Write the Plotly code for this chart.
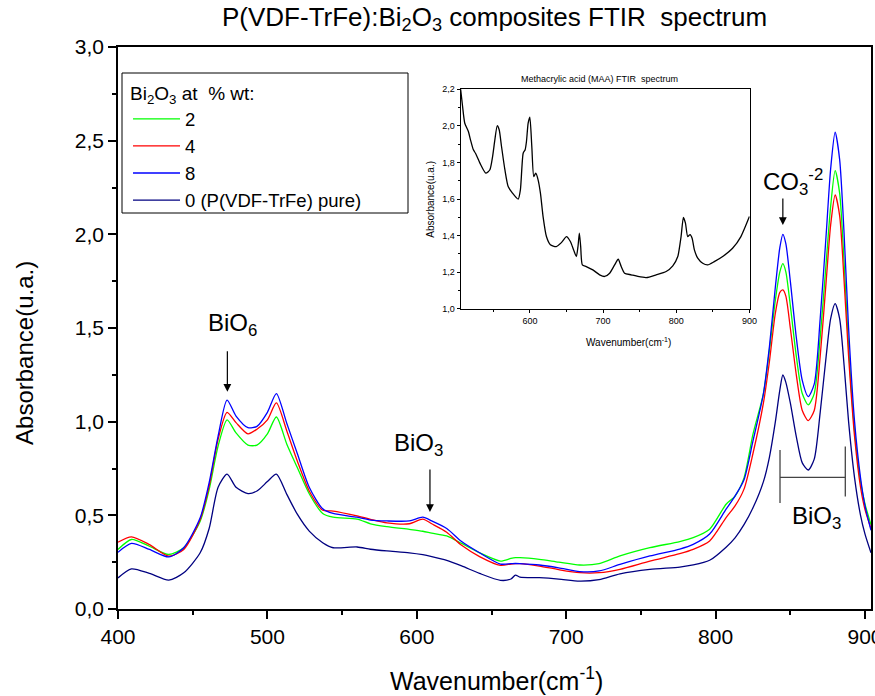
import plotly.graph_objects as go

# ---------------- data ----------------
wavenumber = [400, 409, 421, 434, 444, 455, 461, 467, 473, 479, 487, 493, 500, 506, 513,
              520, 528, 537, 544, 560, 569, 580, 595, 604, 610, 620, 630, 642, 656, 663,
              666, 669, 682, 695, 709, 722, 736, 756, 776, 785, 796, 807, 813, 819, 825,
              832, 836, 840, 843, 845, 847, 850, 854, 858, 862, 866, 870, 874, 877, 880,
              883, 886, 889, 893, 897, 900, 904]

abs_2pct = [.318, .371, .335, .291, .327, .469, .638, .87, 1.01, .94,
            .875, .875, .935, 1.025, .88, .755, .615, .51, .49, .48,
            .455, .44, .425, .415, .405, .39, .35, .30, .256, .27,
            .274, .274, .265, .25, .235, .242, .283, .327, .36, .381,
            .426, .559, .603, .70, .933, 1.15, 1.38, 1.65, 1.80, 1.844,
            1.80, 1.62, 1.35, 1.15, 1.09, 1.15, 1.45, 1.85, 2.15, 2.34,
            2.22, 1.85, 1.4, .95, .68, .56, .45]

abs_4pct = [.357, .385, .344, .282, .318, .478, .656, .906, 1.05, .995,
            .935, .96, 1.01, 1.10, .95, .79, .63, .527, .523, .497,
            .479, .46, .455, .48, .455, .41, .34, .28, .233, .24,
            .242, .242, .229, .21, .194, .194, .212, .256, .295, .318,
            .363, .488, .55, .64, .83, 1.10, 1.32, 1.58, 1.69, 1.703,
            1.67, 1.50, 1.25, 1.06, 1.006, 1.06, 1.35, 1.75, 2.05, 2.21,
            2.10, 1.75, 1.35, .92, .65, .53, .43]

abs_8pct = [.303, .35, .318, .278, .327, .487, .674, .923, 1.115, 1.03,
            .968, .975, 1.05, 1.15, .99, .83, .65, .535, .51, .49,
            .475, .47, .47, .49, .47, .43, .36, .30, .24, .242,
            .243, .242, .235, .22, .20, .203, .238, .283, .32, .345,
            .40, .533, .603, .69, .897, 1.15, 1.40, 1.72, 1.93, 2.0,
            1.95, 1.75, 1.45, 1.22, 1.134, 1.20, 1.55, 2.0, 2.35, 2.545,
            2.40, 2.0, 1.5, 1.0, .70, .55, .42]

abs_0pct = [.166, .214, .19, .154, .193, .30, .43, .65, .72, .65,
            .616, .63, .68, .72, .612, .506, .416, .354, .327, .331,
            .319, .31, .30, .29, .28, .26, .23, .19, .153, .16,
            .181, .17, .167, .16, .149, .157, .188, .212, .224, .235,
            .26, .33, .38, .45, .54, .68, .81, 1.0, 1.17, 1.249,
            1.21, 1.10, .92, .78, .742, .80, 1.05, 1.35, 1.55, 1.63,
            1.55, 1.30, 1.0, .70, .50, .40, .30]

series_names = ["2", "4", "8", "0 (P(VDF-TrFe) pure)"]
series_colors = ["#00FF00", "#FF0000", "#0000FF", "#000080"]

maa_wavenumber = [505.3, 508, 511, 515.8, 519, 522.6, 526, 531.7, 539.8, 545.3, 549, 552,
                  555.3, 558, 561.2, 565.8, 570.3, 576.2, 584, 587, 590.8, 593.5, 595.3,
                  597.6, 599.9, 602.6, 605.3, 608, 611.2, 614.4, 618, 622.6, 628, 636, 643,
                  650, 655.3, 659.8, 663.5, 665.7, 667.6, 669.4, 671.7, 677, 686, 695.3,
                  702.1, 709, 715.8, 720.7, 724.8, 729.4, 738.5, 747.6, 759, 772.6, 786.2,
                  795.3, 802.1, 806.6, 809.8, 812.6, 815.7, 818.9, 821.7, 824.8, 829.4,
                  836.2, 843, 852, 863.5, 877, 888.4, 900]
maa_absorbance = [2.2, 2.105, 2.014, 1.97, 1.92, 1.87, 1.847, 1.796, 1.741, 1.76, 1.832, 1.92,
                  2.0, 1.978, 1.887, 1.76, 1.668, 1.632, 1.599, 1.65, 1.85, 1.869, 1.914,
                  2.014, 2.047, 1.887, 1.723, 1.741, 1.705, 1.632, 1.504, 1.395, 1.35, 1.34,
                  1.362, 1.395, 1.368, 1.322, 1.286, 1.34, 1.413, 1.34, 1.24, 1.231, 1.213,
                  1.186, 1.177, 1.195, 1.24, 1.271, 1.231, 1.195, 1.186, 1.177, 1.171, 1.186,
                  1.204, 1.235, 1.286, 1.395, 1.5, 1.468, 1.395, 1.406, 1.386, 1.322, 1.277,
                  1.249, 1.24, 1.258, 1.286, 1.331, 1.395, 1.504]

# ---------------- figure ----------------
FONT = "Liberation Sans"
fig = go.Figure()

for name, col, vals in zip(series_names, series_colors,
                           [abs_2pct, abs_4pct, abs_8pct, abs_0pct]):
    fig.add_trace(go.Scatter(x=wavenumber, y=vals, mode="lines", name=name,
                             line=dict(color=col, width=1.3, shape="spline", smoothing=0.7)))

fig.add_trace(go.Scatter(x=maa_wavenumber, y=maa_absorbance, mode="lines", showlegend=False,
                         line=dict(color="black", width=1.3, shape="spline", smoothing=0.6),
                         xaxis="x2", yaxis="y2"))

axis_common = dict(showline=True, linecolor="black", mirror=True, ticks="outside",
                   tickcolor="black", showgrid=False, zeroline=False, automargin=False)

fig.update_layout(
    width=875, height=696,
    margin=dict(l=118, r=4, t=47, b=87),
    paper_bgcolor="white", plot_bgcolor="white",
    separators=",.",
    font=dict(family=FONT, color="black"),
    xaxis=dict(range=[400, 904], dtick=100, tick0=0, linewidth=1.5, ticklen=8, tickwidth=1.5,
               tickfont=dict(size=21), ticklabeloverflow="allow",
               minor=dict(dtick=50, ticklen=4, ticks="outside", tickcolor="black", tickwidth=1.5),
               **axis_common),
    yaxis=dict(range=[0, 3], dtick=0.5, tick0=0, tickformat=".1f", linewidth=1.5, ticklen=8,
               tickwidth=1.5, tickfont=dict(size=21),
               minor=dict(dtick=0.25, ticklen=4, ticks="outside", tickcolor="black", tickwidth=1.5),
               **axis_common),
    xaxis2=dict(domain=[0.455, 0.839], anchor="y2", range=[505.3, 900.5], dtick=100, tick0=0,
                linewidth=1, ticklen=3, tickfont=dict(size=9),
                minor=dict(dtick=50, ticklen=2, ticks="outside", tickcolor="black"),
                **axis_common),
    yaxis2=dict(domain=[0.534, 0.925], anchor="x2", range=[1.0, 2.2], dtick=0.2, tick0=0,
                tickformat=".1f", linewidth=1, ticklen=3, tickfont=dict(size=9),
                minor=dict(dtick=0.1, ticklen=2, ticks="outside", tickcolor="black"),
                **axis_common),
    legend=dict(x=0.0133, y=0.949, xanchor="left", yanchor="top", bgcolor="rgba(0,0,0,0)",
                borderwidth=0, font=dict(size=18.5),
                title=dict(text="Bi<sub>2</sub>O<sub>3</sub> at&nbsp; % wt:", font=dict(size=19)),
                itemwidth=47, tracegroupgap=0),
    showlegend=True,
)

ann = []
# titles
ann.append(dict(text="P(VDF-TrFe):Bi<sub>2</sub>O<sub>3</sub> composites FTIR&nbsp; spectrum",
                xref="paper", yref="paper", x=0.5, y=1.051, xanchor="center", yanchor="middle",
                showarrow=False, font=dict(size=26)))
ann.append(dict(text="Wavenumber(cm<sup>-1</sup>)", xref="paper", yref="paper", x=0.503, y=-0.125,
                xanchor="center", yanchor="middle", showarrow=False, font=dict(size=25)))
ann.append(dict(text="Absorbance(u.a.)", xref="paper", yref="paper", x=-0.124, y=0.455,
                xanchor="center", yanchor="middle", textangle=-90, showarrow=False,
                font=dict(size=24)))
# inset titles
ann.append(dict(text="Methacrylic acid (MAA) FTIR&nbsp; spectrum", xref="x2 domain", yref="y2 domain",
                x=0.48, y=1.045, xanchor="center", yanchor="middle", showarrow=False,
                font=dict(size=9)))
ann.append(dict(text="Wavenumber(cm<sup>-1</sup>)", xref="x2 domain", yref="y2 domain",
                x=0.58, y=-0.15, xanchor="center", yanchor="middle", showarrow=False,
                font=dict(size=10)))
ann.append(dict(text="Absorbance(u.a.)", xref="x2 domain", yref="y2 domain",
                x=-0.107, y=0.5, xanchor="center", yanchor="middle", textangle=-90,
                showarrow=False, font=dict(size=10)))
# band labels
ann.append(dict(text="BiO<sub>6</sub>", x=476.3, y=1.517, xref="x", yref="y", showarrow=False,
                font=dict(size=24)))
ann.append(dict(text="BiO<sub>3</sub>", x=601, y=0.88, xref="x", yref="y", showarrow=False,
                font=dict(size=24)))
ann.append(dict(text="CO<sub>3</sub><sup>-2</sup>", x=851.5, y=2.28, xref="x", yref="y",
                showarrow=False, font=dict(size=24)))
ann.append(dict(text="BiO<sub>3</sub>", x=867.5, y=0.49, xref="x", yref="y", showarrow=False,
                font=dict(size=24)))
# arrows
for (ax_x, tip_y, length) in [(473.2, 1.16, 42), (608.8, 0.518, 44), (845, 2.05, 28)]:
    ann.append(dict(text="", x=ax_x, y=tip_y, xref="x", yref="y", ax=0, ay=-length,
                    showarrow=True, arrowhead=2, arrowsize=1.3, arrowwidth=1.2,
                    arrowcolor="black"))
fig.update_layout(annotations=ann)

# legend frame
fig.add_shape(type="rect", xref="paper", yref="paper",
              x0=(122 - 118) / 753, x1=(408 - 118) / 753,
              y0=(609 - 213) / 562, y1=(609 - 73) / 562,
              line=dict(color="black", width=1), fillcolor="rgba(0,0,0,0)")

# BiO3 bracket
br = dict(type="line", xref="x", yref="y", line=dict(color="#444444", width=1.3))
fig.add_shape(x0=843.1, x1=843.1, y0=0.566, y1=0.849, **br)
fig.add_shape(x0=886.8, x1=886.8, y0=0.600, y1=0.867, **br)
fig.add_shape(x0=843.1, x1=886.8, y0=0.703, y1=0.703, **br)

fig.write_html("out.html")
